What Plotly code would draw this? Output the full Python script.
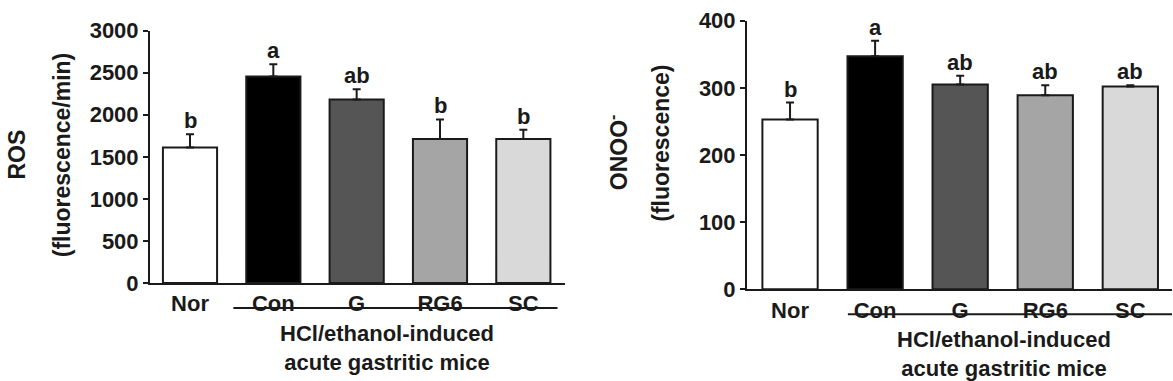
import plotly.graph_objects as go

W, H = 1173, 381

groups = ["Nor", "Con", "G", "RG6", "SC"]
colors = ["#ffffff", "#000000", "#555555", "#a5a5a5", "#d9d9d9"]

ros_mean = [1611, 2456, 2181, 1711, 1711]
ros_err = [159, 144, 123, 233, 111]
ros_sig = ["b", "a", "ab", "b", "b"]
ros_ticks = [0, 500, 1000, 1500, 2000, 2500, 3000]

onoo_mean = [253, 347, 305, 289, 302]
onoo_err = [25, 23, 13, 15, 2]
onoo_sig = ["b", "a", "ab", "ab", "ab"]
onoo_ticks = [0, 100, 200, 300, 400]

FONT = "Liberation Sans, Arial, sans-serif"
INK = "#1a1a1a"

def px(x):
    return x / W

def py(y):
    return (H - y) / H

fig = go.Figure()

for xa, ya, mean, err in [("x", "y", ros_mean, ros_err), ("x2", "y2", onoo_mean, onoo_err)]:
    fig.add_trace(go.Bar(
        x=list(range(len(groups))), y=mean, xaxis=xa, yaxis=ya,
        width=0.65,
        marker=dict(color=colors, line=dict(color=INK, width=2)),
        error_y=dict(type="data", array=err, arrayminus=[0] * len(err), symmetric=False,
                     color=INK, thickness=2, width=4),
        showlegend=False, hoverinfo="skip",
    ))

axis_common = dict(showline=True, linecolor=INK, linewidth=2, showgrid=False, zeroline=False)
tickfont = dict(family=FONT, size=22, color=INK, weight="bold")

fig.update_layout(
    width=W, height=H,
    margin=dict(l=0, r=0, t=0, b=0),
    paper_bgcolor="white", plot_bgcolor="white",
    bargap=0.3,
    xaxis=dict(domain=[px(150), px(565)], range=[-0.48, 4.5], tickmode="array",
               tickvals=list(range(5)), ticktext=groups, ticks="", tickfont=tickfont,
               anchor="y", **axis_common),
    yaxis=dict(domain=[py(290), py(20)], range=[0, 3000], tickmode="array",
               tickvals=ros_ticks, ticks="outside", ticklen=5, tickwidth=2, tickcolor=INK,
               tickfont=tickfont, anchor="x", **axis_common),
    xaxis2=dict(domain=[px(747), px(1172)], range=[-0.506, 4.49], tickmode="array",
                tickvals=list(range(5)), ticktext=groups, ticks="", tickfont=tickfont,
                anchor="y2", **axis_common),
    yaxis2=dict(domain=[py(296.7), py(9.3)], range=[0, 400], tickmode="array",
                tickvals=onoo_ticks, ticks="outside", ticklen=5, tickwidth=2, tickcolor=INK,
                tickfont=tickfont, anchor="x2", **axis_common),
)

anns = []
# significance letters
for xa, ya, mean, err, sig in [("x", "y", ros_mean, ros_err, ros_sig),
                               ("x2", "y2", onoo_mean, onoo_err, onoo_sig)]:
    for i, (m, e, s) in enumerate(zip(mean, err, sig)):
        anns.append(dict(x=i, y=m + e, xref=xa, yref=ya, text=s, showarrow=False,
                         yanchor="bottom", yshift=-1,
                         font=dict(family=FONT, size=22, color=INK, weight="bold")))

lab_font = dict(family=FONT, size=22, color=INK, weight="bold")
ttl_font = dict(family=FONT, size=23, color=INK, weight="bold")
anns += [
    dict(x=2.367, y=py(359.5), xref="x", yref="paper", text="HCl/ethanol-induced<br>acute gastritic mice",
         showarrow=False, xanchor="center", yanchor="middle", font=lab_font),
    dict(x=2.512, y=py(366.5), xref="x2", yref="paper", text="HCl/ethanol-induced<br>acute gastritic mice",
         showarrow=False, xanchor="center", yanchor="middle", font=lab_font),
    dict(x=px(17), y=py(152.5), xref="paper", yref="paper", text="ROS", textangle=-90,
         showarrow=False, xanchor="center", yanchor="middle", font=ttl_font),
    dict(x=px(62), y=py(153.3), xref="paper", yref="paper", text="(fluorescence/min)", textangle=-90,
         showarrow=False, xanchor="center", yanchor="middle", font=ttl_font),
    dict(x=px(618), y=py(150), xref="paper", yref="paper", text="ONOO<sup>-</sup>", textangle=-90,
         showarrow=False, xanchor="center", yanchor="middle", font=ttl_font),
    dict(x=px(661), y=py(141), xref="paper", yref="paper", text="(fluorescence)", textangle=-90,
         showarrow=False, xanchor="center", yanchor="middle", font=ttl_font),
]
fig.update_layout(annotations=anns)

fig.add_shape(type="line", xref="x", yref="paper", x0=0.52, x1=4.41, y0=py(316.7), y1=py(316.7),
              line=dict(color=INK, width=2))
fig.add_shape(type="line", xref="x2", yref="paper", x0=0.68, x1=4.49, y0=py(323.5), y1=py(323.5),
              line=dict(color=INK, width=2))

fig.write_html("out.html")
